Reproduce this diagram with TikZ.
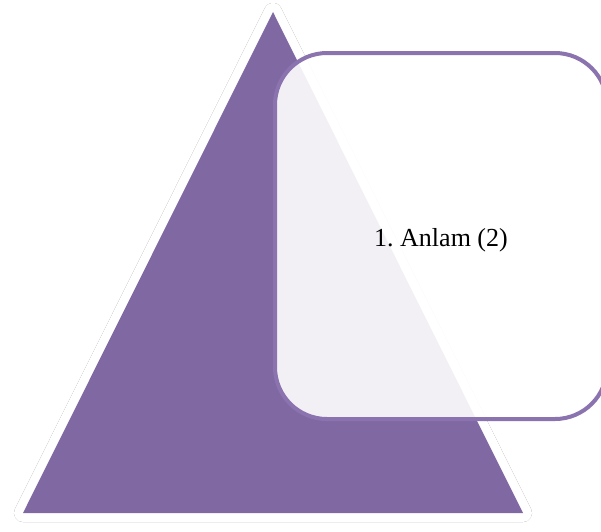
\documentclass[tikz,border=0pt]{standalone}
\usepackage{fontspec}
\setmainfont{Liberation Serif}
\begin{document}
\begin{tikzpicture}[x=1pt,y=-1pt,
  tririm/.style={draw=white,line width=18pt,line join=round},
  trifill/.style={fill=triPurple},
  trishadow/.style={fill=black,draw=black,line width=18pt,line join=round,opacity=0.15},
  textbox/.style={draw=boxPurple,line width=4pt,fill=white,fill opacity=0.9,
    rounded corners=52pt,minimum width=332pt,minimum height=366pt,inner sep=0pt},
  boxlabel/.style={font=\fontsize{26}{30}\selectfont,inner sep=0pt}]
\definecolor{triPurple}{HTML}{8069A3}
\definecolor{boxPurple}{HTML}{8B73B0}
\clip (0,0) rectangle (601,531);
\fill[white] (0,0) rectangle (601,531);
\coordinate (apex) at (273,12);
\coordinate (bl) at (23,513);
\coordinate (br) at (523,513);
\foreach \s in {1.5,3,4.5,6}{
\begin{scope}[shift={(1.5,\s)}]
\draw[trishadow] (apex) -- (bl) -- (br) -- cycle;
\end{scope}}
\draw[tririm] (apex) -- (bl) -- (br) -- cycle;
\fill[trifill] (apex) -- (bl) -- (br) -- cycle;
\node[textbox] (box) at (441,236) {};
\node[boxlabel] (boxtext) at (441,240) {1.\ Anlam (2)};
\end{tikzpicture}
\end{document}
